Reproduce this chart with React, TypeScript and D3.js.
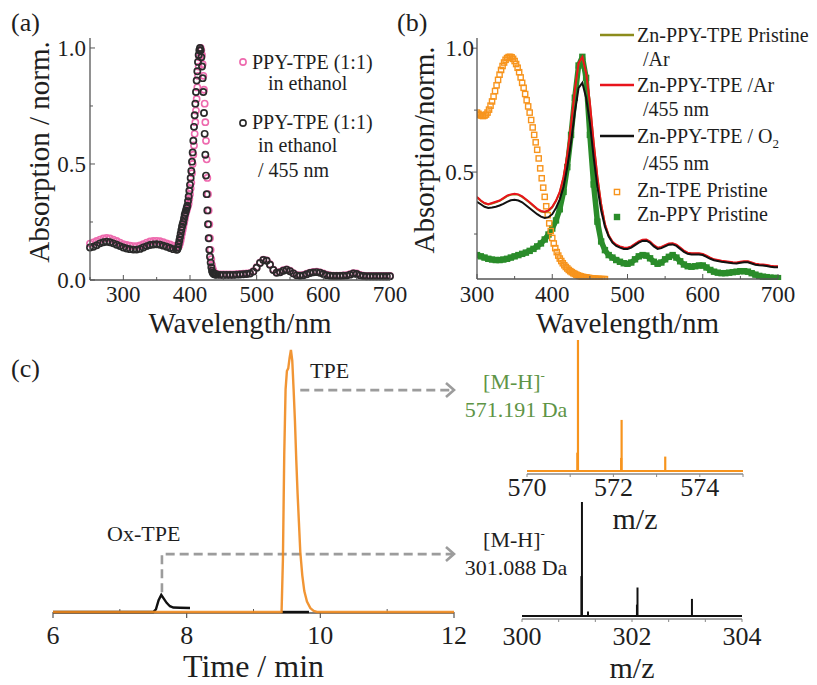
import React from 'react';
import * as d3 from 'd3';

const FONT = '"Liberation Serif", "Times New Roman", Times, serif';

// ---------- Panel (a): UV-vis, PPY-TPE (1:1) in ethanol ----------
const aWavelength = [...d3.range(250, 381, 5), ...d3.range(381, 441, 1), ...d3.range(445, 701, 5)];
const aPink = [
  0.157, 0.162, 0.168, 0.174, 0.179, 0.181, 0.179, 0.174, 0.168, 0.161, 0.155, 0.151, 0.148, 0.146,
  0.146, 0.149, 0.155, 0.161, 0.166, 0.168, 0.169, 0.167, 0.163, 0.158, 0.153, 0.148, 0.144,
  0.143, 0.143, 0.145, 0.15, 0.16, 0.17, 0.185, 0.2, 0.215, 0.23,
  0.245, 0.26, 0.275, 0.29, 0.3, 0.31, 0.32, 0.33, 0.35, 0.37,
  0.395, 0.42, 0.46, 0.5, 0.54, 0.58, 0.63, 0.68, 0.73, 0.78,
  0.83, 0.88, 0.92, 0.96, 0.99, 1.0, 0.99, 0.97, 0.93, 0.88,
  0.82, 0.76, 0.68, 0.6, 0.52, 0.44, 0.37, 0.3, 0.24, 0.18,
  0.13, 0.09, 0.065, 0.05, 0.04, 0.033, 0.03, 0.028, 0.026, 0.025,
  0.024, 0.024, 0.024, 0.024, 0.024, 0.025, 0.026, 0.027, 0.028, 0.03,
  0.038, 0.055, 0.075, 0.088, 0.085, 0.068, 0.045, 0.033, 0.035, 0.042,
  0.046, 0.04, 0.03, 0.022, 0.02, 0.022, 0.027, 0.032, 0.035, 0.036,
  0.033, 0.028, 0.023, 0.02, 0.019, 0.019, 0.019, 0.02, 0.021, 0.025,
  0.03, 0.028, 0.022, 0.019, 0.018, 0.018, 0.018, 0.018, 0.018, 0.018,
  0.018, 0.018,
];
const aBlack = [
  0.14, 0.143, 0.15, 0.158, 0.163, 0.165, 0.163, 0.158, 0.152, 0.146, 0.14, 0.136, 0.133, 0.131,
  0.131, 0.134, 0.14, 0.146, 0.151, 0.153, 0.154, 0.152, 0.148, 0.143, 0.138, 0.133, 0.13,
  0.132, 0.14, 0.155, 0.17, 0.185, 0.2, 0.215, 0.23, 0.24, 0.25,
  0.265, 0.28, 0.29, 0.3, 0.31, 0.32, 0.34, 0.36, 0.385, 0.41,
  0.44, 0.47, 0.51, 0.55, 0.6, 0.66, 0.71, 0.76, 0.81, 0.86,
  0.9, 0.94, 0.97, 0.99, 1.0, 0.99, 0.96, 0.92, 0.87, 0.81,
  0.72, 0.63, 0.54, 0.45, 0.37, 0.3, 0.24, 0.18, 0.13, 0.1,
  0.075, 0.055, 0.04, 0.032, 0.028, 0.026, 0.025, 0.024, 0.024, 0.024,
  0.022, 0.022, 0.022, 0.022, 0.022, 0.023, 0.024, 0.025, 0.026, 0.028,
  0.036, 0.053, 0.073, 0.086, 0.083, 0.066, 0.043, 0.031, 0.033, 0.04,
  0.044, 0.038, 0.028, 0.02, 0.018, 0.02, 0.025, 0.03, 0.033, 0.034,
  0.031, 0.026, 0.021, 0.018, 0.017, 0.017, 0.017, 0.018, 0.019, 0.023,
  0.028, 0.026, 0.02, 0.017, 0.016, 0.016, 0.016, 0.016, 0.016, 0.016,
  0.016, 0.016,
];
const aXTicks = [300, 400, 500, 600, 700];
const aYTicks = [0, 0.5, 1.0];

// ---------- Panel (b): Zn films ----------
const bWavelength = d3.range(300, 701, 5);
const bRed = [
  0.4, 0.385, 0.375, 0.37, 0.375, 0.38, 0.385, 0.395, 0.405, 0.41,
  0.412, 0.41, 0.402, 0.39, 0.378, 0.365, 0.352, 0.343, 0.34, 0.345,
  0.36, 0.385, 0.42, 0.48, 0.57, 0.69, 0.83, 0.94, 0.965, 0.9,
  0.78, 0.62, 0.48, 0.37, 0.29, 0.245, 0.22, 0.207, 0.2, 0.196,
  0.195, 0.2, 0.21, 0.22, 0.227, 0.228, 0.22, 0.205, 0.195, 0.198,
  0.205, 0.212, 0.213, 0.207, 0.195, 0.183, 0.175, 0.172, 0.172, 0.172,
  0.17, 0.163, 0.155, 0.148, 0.145, 0.142, 0.14, 0.138, 0.136, 0.135,
  0.138, 0.14, 0.14, 0.135, 0.13, 0.128, 0.127, 0.125, 0.122, 0.12,
  0.12,
];
const bOlive = [
  0.398, 0.384, 0.374, 0.369, 0.373, 0.378, 0.384, 0.393, 0.403, 0.408,
  0.41, 0.408, 0.4, 0.388, 0.376, 0.363, 0.35, 0.341, 0.338, 0.343,
  0.358, 0.383, 0.418, 0.478, 0.568, 0.688, 0.828, 0.938, 0.963, 0.898,
  0.778, 0.618, 0.478, 0.368, 0.288, 0.243, 0.218, 0.205, 0.198, 0.194,
  0.193, 0.198, 0.208, 0.218, 0.225, 0.226, 0.218, 0.203, 0.193, 0.196,
  0.203, 0.21, 0.211, 0.205, 0.193, 0.181, 0.173, 0.17, 0.17, 0.17,
  0.168, 0.161, 0.153, 0.146, 0.143, 0.14, 0.138, 0.136, 0.134, 0.133,
  0.136, 0.138, 0.138, 0.133, 0.128, 0.126, 0.125, 0.123, 0.12, 0.118,
  0.118,
];
const bBlack = [
  0.38, 0.37, 0.36, 0.355, 0.357, 0.36, 0.365, 0.372, 0.38, 0.386,
  0.388, 0.385, 0.378, 0.366, 0.354, 0.342, 0.33, 0.32, 0.315, 0.318,
  0.33, 0.355, 0.39, 0.44, 0.52, 0.62, 0.74, 0.84, 0.86, 0.8,
  0.7, 0.56, 0.44, 0.345, 0.28, 0.24, 0.215, 0.202, 0.195, 0.19,
  0.19, 0.195, 0.205, 0.215, 0.222, 0.223, 0.215, 0.2, 0.19, 0.193,
  0.2, 0.207, 0.208, 0.202, 0.19, 0.178, 0.17, 0.167, 0.167, 0.167,
  0.165, 0.158, 0.15, 0.144, 0.141, 0.138, 0.136, 0.134, 0.132, 0.131,
  0.134, 0.136, 0.136, 0.131, 0.126, 0.124, 0.123, 0.121, 0.118, 0.116,
  0.116,
];
const bGreen = [
  0.165, 0.16, 0.155, 0.15, 0.147, 0.145, 0.145, 0.147, 0.15, 0.155,
  0.16, 0.165, 0.17, 0.175, 0.182, 0.19, 0.2, 0.212, 0.228, 0.248,
  0.272, 0.305, 0.35, 0.42, 0.52, 0.65, 0.8, 0.93, 0.965, 0.88,
  0.65, 0.45, 0.3, 0.22, 0.185, 0.165, 0.155, 0.145, 0.138, 0.132,
  0.13, 0.135, 0.148, 0.16, 0.165, 0.163, 0.152, 0.138, 0.13, 0.135,
  0.148, 0.158, 0.165, 0.155, 0.14, 0.127, 0.12, 0.118, 0.12, 0.123,
  0.123, 0.115, 0.105, 0.098, 0.094, 0.092, 0.092, 0.094, 0.096, 0.098,
  0.1, 0.1, 0.098, 0.092, 0.086, 0.081, 0.078, 0.076, 0.074, 0.073,
  0.072,
];
const bOrangeWavelength = d3.range(300, 471, 2);
const bOrange = [
  0.74, 0.735, 0.73, 0.728, 0.726, 0.728, 0.732, 0.74, 0.752, 0.768,
  0.785, 0.805, 0.827, 0.85, 0.872, 0.893, 0.912, 0.928, 0.942, 0.953,
  0.96, 0.964, 0.965, 0.963, 0.957, 0.948, 0.936, 0.921, 0.903, 0.882,
  0.86, 0.84, 0.815, 0.79, 0.765, 0.74, 0.71, 0.68, 0.65, 0.62,
  0.59, 0.555, 0.515, 0.475, 0.437, 0.4, 0.362, 0.326, 0.293, 0.262,
  0.234, 0.212, 0.193, 0.177, 0.163, 0.151, 0.141, 0.132, 0.124, 0.117,
  0.111, 0.105, 0.1, 0.096, 0.092, 0.089, 0.086, 0.083, 0.081, 0.079,
  0.077, 0.076, 0.075, 0.074, 0.073, 0.072, 0.071, 0.07, 0.07, 0.069,
  0.069, 0.069, 0.068, 0.068, 0.068, 0.068,
];
const bXTicks = [300, 400, 500, 600, 700];
const bYTicks = [0.5, 1.0];

// ---------- Panel (c): chromatogram ----------
const cTpeTime = [6.0, 7.0, 8.0, 9.0, 9.42, 9.44, 9.46, 9.48, 9.5, 9.52, 9.54, 9.56, 9.58, 9.6, 9.62, 9.64, 9.66, 9.68, 9.7, 9.73, 9.76, 9.8, 9.85, 9.9, 9.95, 11.0, 12.0];
const cTpeIntensity = [0, 0, 0, 0, 0, 0.2, 0.6, 0.85, 0.92, 0.93, 0.97, 1.0, 0.96, 0.85, 0.73, 0.58, 0.45, 0.34, 0.23, 0.14, 0.08, 0.04, 0.015, 0.004, 0, 0, 0];
const cOxTime = [6.0, 7.0, 7.5, 7.54, 7.58, 7.62, 7.66, 7.7, 7.75, 7.8, 7.9, 8.05];
const cOxIntensity = [0, 0, 0, 0.01, 0.045, 0.065, 0.05, 0.035, 0.022, 0.017, 0.016, 0.015];
const cOxTailTime = [9.42, 9.83];
const cOxTailIntensity = [0, 0];
const cXTicks = [6, 8, 10, 12];
const cXMinor = [7, 9, 11];

// ---------- MS spectra ----------
const msTpeMz = [571.165, 571.18, 572.18, 572.19, 573.2];
const msTpeInt = [0.14, 1.0, 0.1, 0.39, 0.11];
const msTpeTicks = [570, 572, 574];
const msOxMz = [301.08, 301.09, 301.2, 302.09, 302.1, 303.09];
const msOxInt = [0.35, 1.0, 0.04, 0.1, 0.25, 0.15];
const msOxTicks = [300, 302, 304];

const C = {
  pink: '#ee6aae',
  dark: '#2a2a2a',
  axis: '#555555',
  olive: '#8c8c1c',
  red: '#e8141c',
  orange: '#f7941d',
  chromOrange: '#f08a1e',
  green: '#2a8c2a',
  grayArrow: '#9c9c9c',
  greenText: '#5e9446',
  text: '#1e1e1e',
};

function line(xs: number[], ys: number[], sx: any, sy: any) {
  const n = Math.min(xs.length, ys.length);
  return d3.line<number>().x((_, i) => sx(xs[i])).y((d) => sy(d))(ys.slice(0, n)) || '';
}

export default function App() {
  const ax = d3.scaleLinear().domain([250, 700]).range([90, 390]);
  const ay = d3.scaleLinear().domain([0, 1.043]).range([280, 38]);
  const bx = d3.scaleLinear().domain([300, 700]).range([477, 778]);
  const by = d3.scaleLinear().domain([0.0685, 1.041]).range([279, 38]);
  const cx = d3.scaleLinear().domain([6, 12]).range([53, 454]);
  const cy = d3.scaleLinear().domain([0, 1]).range([612, 350]);
  const m1x = d3.scaleLinear().domain([570, 575]).range([527, 743]);
  const m1y = d3.scaleLinear().domain([0, 1]).range([471, 340]);
  const m2x = d3.scaleLinear().domain([300, 304]).range([522, 742]);
  const m2y = d3.scaleLinear().domain([0, 1]).range([616, 502]);

  const tickFont = 23;
  const titleFont = 29;
  const legFont = 20;
  const nOr = Math.min(bOrangeWavelength.length, bOrange.length);

  const arrowHead = (x: number, y: number) => (
    <polyline points={`${x - 8},${y - 7} ${x},${y} ${x - 8},${y + 7}`} fill="none" stroke={C.grayArrow} strokeWidth={2.6} />
  );

  return (
    <svg width={817} height={685} viewBox="0 0 817 685"
      style={{ position: 'absolute', left: 0, top: 0, background: '#fff', fontFamily: FONT }}>
      <defs>
        <clipPath id="clipB">
          <rect x={477} y={30} width={305} height={250} />
        </clipPath>
      </defs>

      {/* ================= Panel (a) ================= */}
      <text x={11} y={31} fontSize={26} fill={C.text}>(a)</text>
      {aWavelength.map((w, i) => (
        <circle key={'p' + i} cx={ax(w)} cy={ay(aPink[i])} r={3.1} fill="none" stroke={C.pink} strokeWidth={1.6} />
      ))}
      {aWavelength.map((w, i) => (
        <circle key={'k' + i} cx={ax(w)} cy={ay(aBlack[i])} r={3.1} fill="none" stroke={C.dark} strokeWidth={1.7} />
      ))}
      <line x1={ax(250)} x2={ax(700)} y1={ay(0)} y2={ay(0)} stroke={C.axis} strokeWidth={1.3} />
      <line x1={ax(250)} x2={ax(250)} y1={ay(0)} y2={ay(1.043)} stroke={C.axis} strokeWidth={1.3} />
      {d3.range(250, 701, 50).map((t) => (
        <line key={'axt' + t} x1={ax(t)} x2={ax(t)} y1={ay(0)} y2={ay(0) - (t % 100 === 0 ? 5 : 3)} stroke={C.axis} strokeWidth={1} />
      ))}
      {[0, 0.25, 0.5, 0.75, 1].map((t) => (
        <line key={'ayt' + t} x1={ax(250)} x2={ax(250) + (t % 0.5 === 0 ? 5 : 3)} y1={ay(t)} y2={ay(t)} stroke={C.axis} strokeWidth={1} />
      ))}
      {aXTicks.map((t) => (
        <text key={'axl' + t} x={ax(t)} y={302} fontSize={tickFont} textAnchor="middle" fill={C.text}>{t}</text>
      ))}
      {aYTicks.map((t) => (
        <text key={'ayl' + t} x={86} y={ay(t) + 8} fontSize={tickFont} textAnchor="end" fill={C.text}>{t.toFixed(1)}</text>
      ))}
      <text x={240} y={333} fontSize={titleFont} textAnchor="middle" fill={C.text}>Wavelength/nm</text>
      <text transform="translate(49,152) rotate(-90)" fontSize={titleFont} textAnchor="middle" fill={C.text}>Absorption / norm.</text>
      <circle cx={243} cy={62} r={3.1} fill="none" stroke={C.pink} strokeWidth={1.6} />
      <text x={252} y={69} fontSize={legFont} fill={C.text}>PPY-TPE (1:1)</text>
      <text x={268} y={90} fontSize={legFont} fill={C.text}>in ethanol</text>
      <circle cx={243} cy={123} r={3.1} fill="none" stroke={C.dark} strokeWidth={1.6} />
      <text x={252} y={129} fontSize={legFont} fill={C.text}>PPY-TPE (1:1)</text>
      <text x={258} y={152} fontSize={legFont} fill={C.text}>in ethanol</text>
      <text x={258} y={177} fontSize={legFont} fill={C.text}>/ 455 nm</text>

      {/* ================= Panel (b) ================= */}
      <text x={397} y={31} fontSize={26} fill={C.text}>(b)</text>
      <g clipPath="url(#clipB)">
        <path d={line(bWavelength, bGreen, bx, by)} fill="none" stroke={C.green} strokeWidth={5.5} strokeLinejoin="round" />
        {bWavelength.map((w, i) => (
          <rect key={'g' + i} x={bx(w) - 3.2} y={by(bGreen[i]) - 3.2} width={6.4} height={6.4} fill={C.green} />
        ))}
        {bOrangeWavelength.slice(0, nOr).map((w, i) => (
          <rect key={'o' + i} x={bx(w) - 2.6} y={by(bOrange[i]) - 2.6} width={5.2} height={5.2} fill="none" stroke={C.orange} strokeWidth={1.4} />
        ))}
        <path d={line(bWavelength, bOlive, bx, by)} fill="none" stroke={C.olive} strokeWidth={2} />
        <path d={line(bWavelength, bRed, bx, by)} fill="none" stroke={C.red} strokeWidth={2} />
        <path d={line(bWavelength, bBlack, bx, by)} fill="none" stroke="#111" strokeWidth={2} />
      </g>
      <line x1={bx(300)} x2={bx(700)} y1={279} y2={279} stroke={C.axis} strokeWidth={1.3} />
      <line x1={bx(300)} x2={bx(300)} y1={279} y2={38} stroke={C.axis} strokeWidth={1.3} />
      {d3.range(300, 701, 50).map((t) => (
        <line key={'bxt' + t} x1={bx(t)} x2={bx(t)} y1={279} y2={279 - (t % 100 === 0 ? 5 : 3)} stroke={C.axis} strokeWidth={1} />
      ))}
      {[0.25, 0.5, 0.75, 1].map((t) => (
        <line key={'byt' + t} x1={bx(300)} x2={bx(300) - (t % 0.5 === 0 ? 5 : 3)} y1={by(t)} y2={by(t)} stroke={C.axis} strokeWidth={1} />
      ))}
      {bXTicks.map((t) => (
        <text key={'bxl' + t} x={bx(t)} y={302} fontSize={tickFont} textAnchor="middle" fill={C.text}>{t}</text>
      ))}
      {bYTicks.map((t) => (
        <text key={'byl' + t} x={474} y={by(t) + 8} fontSize={tickFont} textAnchor="end" fill={C.text}>{t.toFixed(1)}</text>
      ))}
      <text x={(bx(300) + bx(700)) / 2} y={333} fontSize={titleFont} textAnchor="middle" fill={C.text}>Wavelength/nm</text>
      <text transform="translate(434,150) rotate(-90)" fontSize={titleFont} textAnchor="middle" fill={C.text}>Absorption/norm.</text>
      <line x1={600} x2={634} y1={35} y2={35} stroke={C.olive} strokeWidth={2.5} />
      <text x={637} y={42} fontSize={legFont} fill={C.text}>Zn-PPY-TPE Pristine</text>
      <text x={643} y={66} fontSize={legFont} fill={C.text}>/Ar</text>
      <line x1={600} x2={634} y1={85} y2={85} stroke={C.red} strokeWidth={2.5} />
      <text x={637} y={92} fontSize={legFont} fill={C.text}>Zn-PPY-TPE /Ar</text>
      <text x={643} y={116} fontSize={legFont} fill={C.text}>/455 nm</text>
      <line x1={600} x2={634} y1={136} y2={136} stroke="#111" strokeWidth={2.5} />
      <text x={637} y={143} fontSize={legFont} fill={C.text}>Zn-PPY-TPE / O<tspan fontSize={13} dy={5}>2</tspan></text>
      <text x={643} y={170} fontSize={legFont} fill={C.text}>/455 nm</text>
      <rect x={614.4} y={189.4} width={5.2} height={5.2} fill="none" stroke={C.orange} strokeWidth={1.4} />
      <text x={637} y={197} fontSize={legFont} fill={C.text}>Zn-TPE Pristine</text>
      <rect x={613.8} y={213.8} width={6.4} height={6.4} fill={C.green} />
      <text x={637} y={221} fontSize={legFont} fill={C.text}>Zn-PPY Pristine</text>

      {/* ================= Panel (c) ================= */}
      <text x={11} y={377} fontSize={26} fill={C.text}>(c)</text>
      <path d={`M${cx(9.7)},${cy(0.847)} H${cx(12.0) - 2}`} fill="none" stroke={C.grayArrow} strokeWidth={2.6} strokeDasharray="9 5" />
      {arrowHead(cx(12.0), cy(0.847))}
      <path d={`M${cx(7.63)},${cy(0.075)} V${cy(0.221)} H${cx(12.0) - 2}`} fill="none" stroke={C.grayArrow} strokeWidth={2.6} strokeDasharray="9 5" />
      {arrowHead(cx(12.0), cy(0.221))}
      <line x1={cx(6)} x2={cx(12)} y1={cy(0) + 1} y2={cy(0) + 1} stroke={C.axis} strokeWidth={1.3} />
      {cXTicks.map((t) => (
        <line key={'cxt' + t} x1={cx(t)} x2={cx(t)} y1={cy(0)} y2={cy(0) + 6} stroke={C.axis} strokeWidth={1.2} />
      ))}
      {cXMinor.map((t) => (
        <line key={'cxm' + t} x1={cx(t)} x2={cx(t)} y1={cy(0) + 1} y2={cy(0) - 3} stroke={C.axis} strokeWidth={1} />
      ))}
      <path d={line(cOxTime, cOxIntensity, cx, cy)} fill="none" stroke="#111" strokeWidth={2.4} />
      <path d={line(cOxTailTime, cOxTailIntensity, cx, cy)} fill="none" stroke="#111" strokeWidth={2.4} />
      <path d={line(cTpeTime, cTpeIntensity, cx, cy)} fill="none" stroke={C.chromOrange} strokeOpacity={0.9} strokeWidth={2.4} />
      {cXTicks.map((t) => (
        <text key={'cxl' + t} x={cx(t)} y={644} fontSize={26} textAnchor="middle" fill={C.text}>{t}</text>
      ))}
      <text x={(cx(6) + cx(12)) / 2} y={677} fontSize={32} textAnchor="middle" fill={C.text}>Time / min</text>
      <text x={310} y={378} fontSize={22} fill={C.text}>TPE</text>
      <text x={107} y={541} fontSize={22} fill={C.text}>Ox-TPE</text>

      {/* ================= MS TPE ================= */}
      <line x1={m1x(570)} x2={m1x(575)} y1={474} y2={474} stroke="#888" strokeWidth={1.3} />
      {d3.range(570, 576, 1).map((t) => (
        <line key={'m1t' + t} x1={m1x(t)} x2={m1x(t)} y1={474} y2={477} stroke="#888" strokeWidth={1} />
      ))}
      <line x1={m1x(570)} x2={m1x(575)} y1={m1y(0)} y2={m1y(0)} stroke={C.orange} strokeWidth={2} />
      {msTpeMz.map((m, i) => (
        <line key={'m1p' + i} x1={m1x(m)} x2={m1x(m)} y1={m1y(0)} y2={m1y(msTpeInt[i])} stroke={C.orange} strokeWidth={2.2} />
      ))}
      {msTpeTicks.map((t) => (
        <text key={'m1l' + t} x={m1x(t)} y={496} fontSize={26} textAnchor="middle" fill={C.text}>{t}</text>
      ))}
      <text x={(m1x(570) + m1x(575)) / 2} y={529} fontSize={30} textAnchor="middle" fill={C.text}>m/z</text>
      <text x={514} y={389} fontSize={22} textAnchor="middle" fill={C.greenText}>[M-H]<tspan fontSize={13} dy={-9}>-</tspan></text>
      <text x={516} y={417} fontSize={22} textAnchor="middle" fill={C.greenText}>571.191 Da</text>

      {/* ================= MS Ox-TPE ================= */}
      <line x1={m2x(300)} x2={m2x(304)} y1={619} y2={619} stroke="#888" strokeWidth={1.3} />
      {d3.range(0, 7).map((k) => (
        <line key={'m2t' + k} x1={m2x(300 + (k * 2) / 3)} x2={m2x(300 + (k * 2) / 3)} y1={619} y2={622} stroke="#888" strokeWidth={1} />
      ))}
      <line x1={m2x(300)} x2={m2x(304)} y1={m2y(0)} y2={m2y(0)} stroke="#111" strokeWidth={2} />
      {msOxMz.map((m, i) => (
        <line key={'m2p' + i} x1={m2x(m)} x2={m2x(m)} y1={m2y(0)} y2={m2y(msOxInt[i])} stroke="#111" strokeWidth={2} />
      ))}
      {msOxTicks.map((t) => (
        <text key={'m2l' + t} x={m2x(t)} y={645} fontSize={26} textAnchor="middle" fill={C.text}>{t}</text>
      ))}
      <text x={(m2x(300) + m2x(304)) / 2} y={678} fontSize={30} textAnchor="middle" fill={C.text}>m/z</text>
      <text x={514} y={547} fontSize={22} textAnchor="middle" fill={C.text}>[M-H]<tspan fontSize={13} dy={-9}>-</tspan></text>
      <text x={516} y={575} fontSize={22} textAnchor="middle" fill={C.text}>301.088 Da</text>
    </svg>
  );
}
